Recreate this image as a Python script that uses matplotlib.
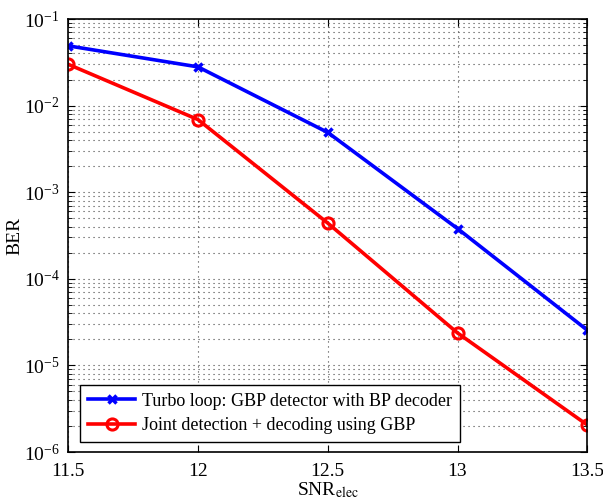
import matplotlib
matplotlib.use("Agg")
import matplotlib.pyplot as plt
import numpy as np

plt.rcParams['font.family'] = ['Liberation Serif', 'DejaVu Serif']
plt.rcParams['mathtext.fontset'] = 'stix'

snr = [11.5, 12, 12.5, 13, 13.5]
ber_turbo = [0.049, 0.028, 0.0049, 3.8e-4, 2.55e-5]
ber_joint = [0.030, 0.0069, 4.4e-4, 2.37e-5, 2.05e-6]

fig = plt.figure(figsize=(6.03, 5), dpi=100)
ax = fig.add_axes([0.113, 0.096, 0.861, 0.866])

ax.semilogy(snr, ber_turbo, color='blue', lw=2.6, marker='x', ms=6, mew=2.5,
            label='Turbo loop: GBP detector with BP decoder')
ax.semilogy(snr, ber_joint, color='red', lw=2.6, marker='o', ms=8, mew=2.2,
            mfc='none', label='Joint detection + decoding using GBP')

ax.set_xlim(11.5, 13.5)
ax.set_ylim(1e-6, 1e-1)
ax.set_xticks([11.5, 12, 12.5, 13, 13.5])
ax.set_xticklabels(['11.5', '12', '12.5', '13', '13.5'])
ax.grid(True, which='major', axis='both', ls=(0, (1, 3.5)), color='#444444', lw=0.8)
ax.grid(True, which='minor', axis='y', ls=(0, (1, 3.5)), color='#444444', lw=0.8)
ax.tick_params(which='both', direction='in', top=True, right=True, labelsize=14)
ax.tick_params(axis='x', pad=8)
ax.tick_params(axis='y', pad=6)
ax.tick_params(which='major', length=5)
ax.tick_params(which='minor', length=3)
for s in ax.spines.values():
    s.set_linewidth(1.2)

ax.set_xlabel(r'SNR$_\mathrm{elec}$', fontsize=14, labelpad=0)
ax.set_ylabel('BER', fontsize=14, labelpad=0)

leg = ax.legend(loc='lower left', bbox_to_anchor=(0.023, 0.023), fontsize=13,
                fancybox=False, edgecolor='black', framealpha=1,
                handlelength=2.6, handletextpad=0.4, borderpad=0.45,
                labelspacing=0.4, borderaxespad=0)
leg.get_frame().set_linewidth(1.0)

fig.savefig('out.png', dpi=100)
